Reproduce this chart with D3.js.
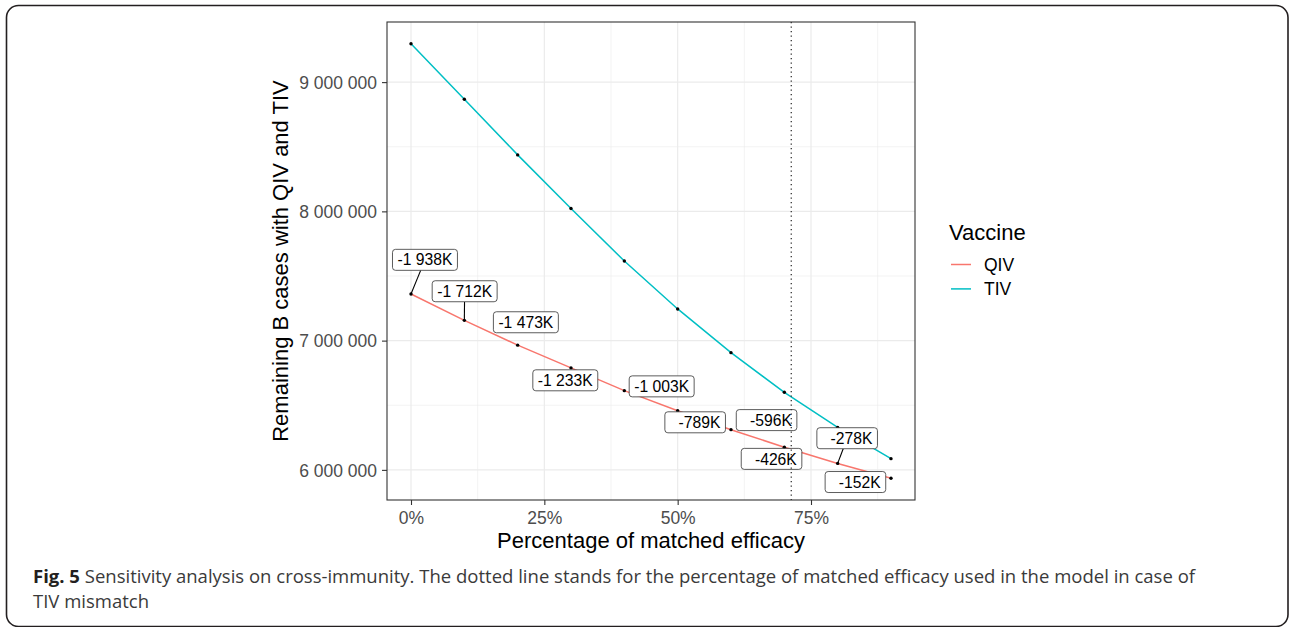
<!DOCTYPE html>
<html>
<head>
<meta charset="utf-8">
<script src="https://cdn.jsdelivr.net/npm/d3@7/dist/d3.min.js"></script>
<style>
  html, body { margin: 0; padding: 0; background: #fff; }
  svg { display: block; }
  text { white-space: pre; }
</style>
</head>
<body>
<svg id="chart" width="1292" height="627"></svg>
<script>
// ---------------- data ----------------
const matchedEfficacy = [0, 0.1, 0.2, 0.3, 0.4, 0.5, 0.6, 0.7, 0.8, 0.9];
const tivCases = [9297000, 8868000, 8437000, 8022000, 7616000, 7245000, 6907000, 6600000, 6328000, 6087000];
const qivCases = [7361000, 7157000, 6965000, 6789000, 6613000, 6457000, 6311000, 6175000, 6050000, 5935000];
const diffLabels = ["-1 938K", "-1 712K", "-1 473K", "-1 233K", "-1 003K", "  -789K", "  -596K", "  -426K", "  -278K", "  -152K"];
// repelled label anchor positions (data units)
const labelX = [0.0262, 0.1006, 0.2154, 0.2893, 0.4700, 0.5328, 0.6667, 0.6760, 0.8178, 0.8333];
const labelY = [7625000, 7382000, 7142000, 6693000, 6646000, 6368000, 6385000, 6085000, 6245000, 5906000];
const xTicks = [0, 0.25, 0.5, 0.75];
const xMinor = [0.125, 0.375, 0.625, 0.875];
const yTicks = [6000000, 7000000, 8000000, 9000000];
const yMinor = [5500000, 6500000, 7500000, 8500000, 9500000];
const modelEfficacy = 0.713;
const seriesNames = ["QIV", "TIV"];
const seriesColors = ["#F8766D", "#00BFC4"];

// ---------------- layout ----------------
const svg = d3.select("#chart");
const panel = { left: 387, right: 915, top: 22, bottom: 500 };
const font = "'Liberation Sans', Arial, Helvetica, sans-serif";

const xExt = d3.extent(matchedEfficacy);
const xPad = (xExt[1] - xExt[0]) * 0.05;
const x = d3.scaleLinear().domain([xExt[0] - xPad, xExt[1] + xPad]).range([panel.left, panel.right]);
const yAll = tivCases.concat(qivCases);
const yExt = d3.extent(yAll);
const yPad = (yExt[1] - yExt[0]) * 0.05;
const y = d3.scaleLinear().domain([yExt[0] - yPad, yExt[1] + yPad]).range([panel.bottom, panel.top]);

// outer frame
svg.append("rect")
  .attr("x", 6.5).attr("y", 5.5).attr("width", 1281.5).attr("height", 621)
  .attr("rx", 12).attr("ry", 12)
  .attr("fill", "none").attr("stroke", "#231f20").attr("stroke-width", 1.6);

// clip for panel
svg.append("defs").append("clipPath").attr("id", "pclip")
  .append("rect").attr("x", panel.left).attr("y", panel.top)
  .attr("width", panel.right - panel.left).attr("height", panel.bottom - panel.top);

const g = svg.append("g");
const inner = g.append("g").attr("clip-path", "url(#pclip)");

// grid
inner.selectAll(".xminor").data(xMinor).join("line")
  .attr("x1", d => x(d)).attr("x2", d => x(d)).attr("y1", panel.top).attr("y2", panel.bottom)
  .attr("stroke", "#EBEBEB").attr("stroke-width", 0.6);
inner.selectAll(".yminor").data(yMinor).join("line")
  .attr("y1", d => y(d)).attr("y2", d => y(d)).attr("x1", panel.left).attr("x2", panel.right)
  .attr("stroke", "#EBEBEB").attr("stroke-width", 0.6);
inner.selectAll(".xmajor").data(xTicks).join("line")
  .attr("x1", d => x(d)).attr("x2", d => x(d)).attr("y1", panel.top).attr("y2", panel.bottom)
  .attr("stroke", "#EBEBEB").attr("stroke-width", 1.2);
inner.selectAll(".ymajor").data(yTicks).join("line")
  .attr("y1", d => y(d)).attr("y2", d => y(d)).attr("x1", panel.left).attr("x2", panel.right)
  .attr("stroke", "#EBEBEB").attr("stroke-width", 1.2);

// lines
const series = [qivCases, tivCases];
const lineGen = d3.line().x((d, i) => x(matchedEfficacy[i])).y(d => y(d));
series.forEach((s, k) => {
  inner.append("path").datum(s).attr("d", lineGen)
    .attr("fill", "none").attr("stroke", seriesColors[k]).attr("stroke-width", 1.5);
});
// points
series.forEach(s => {
  inner.selectAll(null).data(s).join("circle")
    .attr("cx", (d, i) => x(matchedEfficacy[i])).attr("cy", d => y(d))
    .attr("r", 1.7).attr("fill", "#000");
});

// labels (repel-style)
const lblFont = 15.7;
const lblG = inner.append("g");
diffLabels.forEach((t, i) => {
  const cx = x(labelX[i]), cy = y(labelY[i]);
  const px = x(matchedEfficacy[i]), py = y(qivCases[i]);
  const txt = lblG.append("text").attr("xml:space", "preserve")
    .attr("font-family", font).attr("font-size", lblFont).attr("fill", "#000")
    .attr("text-anchor", "middle").attr("x", cx).attr("y", cy + lblFont * 0.716 / 2)
    .text(t);
  const w = txt.node().getComputedTextLength() + 10;
  const h = 21;
  const x0 = cx - w / 2, x1 = cx + w / 2, y0 = cy - h / 2, y1 = cy + h / 2;
  // segment from point toward label centre, clipped at box edge
  const dx = cx - px, dy = cy - py;
  let tmin = 1;
  if (dx !== 0) {
    [x0, x1].forEach(ex => { const tt = (ex - px) / dx; const yy = py + tt * dy; if (tt > 0 && tt < tmin && yy >= y0 - 0.01 && yy <= y1 + 0.01) tmin = tt; });
  }
  if (dy !== 0) {
    [y0, y1].forEach(ey => { const tt = (ey - py) / dy; const xx = px + tt * dx; if (tt > 0 && tt < tmin && xx >= x0 - 0.01 && xx <= x1 + 0.01) tmin = tt; });
  }
  const sx = px + tmin * dx, sy = py + tmin * dy;
  const segLen = Math.hypot(sx - px, sy - py);
  if (segLen > 14) {
    lblG.insert("line", "text").attr("x1", px).attr("y1", py).attr("x2", sx).attr("y2", sy)
      .attr("stroke", "#000").attr("stroke-width", 1.1);
  }
  lblG.insert("rect", () => txt.node())
    .attr("x", x0).attr("y", y0).attr("width", w).attr("height", h)
    .attr("rx", 3).attr("ry", 3)
    .attr("fill", "#fff").attr("stroke", "#333").attr("stroke-width", 0.8);
});

// vertical dotted line
inner.append("line")
  .attr("x1", x(modelEfficacy)).attr("x2", x(modelEfficacy))
  .attr("y1", panel.top).attr("y2", panel.bottom)
  .attr("stroke", "#333").attr("stroke-width", 1.3).attr("stroke-dasharray", "1.3,3.2");

// panel border
g.append("rect").attr("x", panel.left).attr("y", panel.top)
  .attr("width", panel.right - panel.left).attr("height", panel.bottom - panel.top)
  .attr("fill", "none").attr("stroke", "#333").attr("stroke-width", 1.1);

// axes
const tickFont = 17.5;
const xAxis = d3.axisBottom(x).tickValues(xTicks).tickSize(5).tickSizeOuter(0)
  .tickFormat(d3.format(".0%"));
const xa = g.append("g").attr("transform", `translate(0,${panel.bottom})`).call(xAxis);
xa.select(".domain").remove();
xa.selectAll(".tick line").attr("stroke", "#333").attr("stroke-width", 1.1);
xa.selectAll(".tick text").attr("font-family", font).attr("font-size", tickFont)
  .attr("fill", "#4D4D4D").attr("dy", null).attr("y", 24);

const yFmt = d => d3.format(",")(d).replace(/,/g, " ");
const yAxis = d3.axisLeft(y).tickValues(yTicks).tickSize(5).tickSizeOuter(0).tickFormat(yFmt);
const ya = g.append("g").attr("transform", `translate(${panel.left},0)`).call(yAxis);
ya.select(".domain").remove();
ya.selectAll(".tick line").attr("stroke", "#333").attr("stroke-width", 1.1);
ya.selectAll(".tick text").attr("font-family", font).attr("font-size", tickFont)
  .attr("fill", "#4D4D4D").attr("x", -10).attr("dy", "0.36em");

// axis titles
g.append("text").attr("x", (panel.left + panel.right) / 2).attr("y", 548)
  .attr("text-anchor", "middle").attr("font-family", font).attr("font-size", 22).attr("fill", "#000")
  .text("Percentage of matched efficacy");
g.append("text").attr("transform", `translate(288,${(panel.top + panel.bottom) / 2}) rotate(-90)`)
  .attr("text-anchor", "middle").attr("font-family", font).attr("font-size", 22).attr("fill", "#000")
  .text("Remaining B cases with QIV and TIV");

// legend
const lg = g.append("g");
lg.append("text").attr("x", 949).attr("y", 239.5).attr("font-family", font).attr("font-size", 22)
  .attr("fill", "#000").text("Vaccine");
seriesNames.forEach((n, i) => {
  const yy = 264.5 + i * 24.4;
  lg.append("line").attr("x1", 951).attr("x2", 971).attr("y1", yy).attr("y2", yy)
    .attr("stroke", seriesColors[i]).attr("stroke-width", 1.5);
  lg.append("text").attr("x", 984).attr("y", yy + 6.3).attr("font-family", font).attr("font-size", 17.5)
    .attr("fill", "#000").text(n);
});

// caption
const capFont = "'Open Sans', 'Noto Sans', sans-serif";
const cap1 = svg.append("text").attr("x", 33).attr("y", 582.5)
  .attr("font-family", capFont).attr("font-size", 18.5).attr("fill", "#3a3a3a")
  .attr("textLength", 1162).attr("lengthAdjust", "spacingAndGlyphs");
cap1.append("tspan").attr("font-weight", 700).attr("fill", "#231f20").text("Fig. 5");
cap1.append("tspan").text(" Sensitivity analysis on cross-immunity. The dotted line stands for the percentage of matched efficacy used in the model in case of");
const cap2 = svg.append("text").attr("x", 33).attr("y", 607.5)
  .attr("font-family", capFont).attr("font-size", 18.5).attr("fill", "#3a3a3a")
  .text("TIV mismatch");
</script>
</body>
</html>
